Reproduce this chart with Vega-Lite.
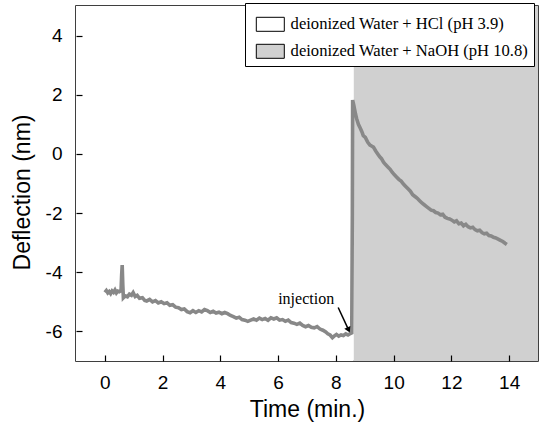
{
  "$schema": "https://vega.github.io/schema/vega-lite/v6.json",
  "width": 462,
  "height": 355,
  "autosize": {"type": "none"},
  "padding": {"left": 76, "top": 6, "right": 3, "bottom": 63},
  "background": "white",
  "config": {
    "view": {"stroke": "black", "strokeWidth": 1.5},
    "axis": {
      "grid": false,
      "domain": false,
      "offset": -6,
      "tickColor": "black",
      "tickWidth": 1.2,
      "tickSize": 6,
      "labelFont": "Liberation Sans",
      "labelFontSize": 19,
      "labelColor": "black",
      "labelExpr": "datum.value + ''",
      "titleFont": "Liberation Sans",
      "titleFontSize": 23,
      "titleFontWeight": "normal",
      "titleColor": "black"
    }
  },
  "datasets": {
    "trace": [
      {"t": 0.00, "d": -4.68}, {"t": 0.05, "d": -4.62}, {"t": 0.10, "d": -4.70}, {"t": 0.15, "d": -4.65},
      {"t": 0.20, "d": -4.72}, {"t": 0.25, "d": -4.63}, {"t": 0.30, "d": -4.68}, {"t": 0.35, "d": -4.60},
      {"t": 0.40, "d": -4.70}, {"t": 0.45, "d": -4.64}, {"t": 0.50, "d": -4.66}, {"t": 0.56, "d": -4.62},
      {"t": 0.58, "d": -4.10}, {"t": 0.60, "d": -3.76}, {"t": 0.62, "d": -4.40}, {"t": 0.64, "d": -4.86},
      {"t": 0.70, "d": -4.80}, {"t": 0.78, "d": -4.83}, {"t": 0.85, "d": -4.74}, {"t": 0.92, "d": -4.78},
      {"t": 0.98, "d": -4.69}, {"t": 1.05, "d": -4.82}, {"t": 1.12, "d": -4.78}, {"t": 1.20, "d": -4.88},
      {"t": 1.30, "d": -4.86}, {"t": 1.38, "d": -4.95}, {"t": 1.45, "d": -4.97}, {"t": 1.55, "d": -4.92},
      {"t": 1.65, "d": -5.00}, {"t": 1.75, "d": -4.96}, {"t": 1.85, "d": -5.04}, {"t": 1.95, "d": -5.00},
      {"t": 2.05, "d": -5.06}, {"t": 2.15, "d": -5.03}, {"t": 2.25, "d": -5.12}, {"t": 2.35, "d": -5.10},
      {"t": 2.45, "d": -5.18}, {"t": 2.55, "d": -5.20}, {"t": 2.65, "d": -5.26}, {"t": 2.75, "d": -5.24},
      {"t": 2.85, "d": -5.33}, {"t": 2.95, "d": -5.37}, {"t": 3.05, "d": -5.30}, {"t": 3.15, "d": -5.36},
      {"t": 3.25, "d": -5.30}, {"t": 3.35, "d": -5.34}, {"t": 3.45, "d": -5.26}, {"t": 3.55, "d": -5.30},
      {"t": 3.65, "d": -5.36}, {"t": 3.75, "d": -5.32}, {"t": 3.85, "d": -5.38}, {"t": 3.95, "d": -5.35},
      {"t": 4.05, "d": -5.40}, {"t": 4.15, "d": -5.36}, {"t": 4.25, "d": -5.40}, {"t": 4.35, "d": -5.46},
      {"t": 4.45, "d": -5.50}, {"t": 4.55, "d": -5.55}, {"t": 4.65, "d": -5.52}, {"t": 4.75, "d": -5.60},
      {"t": 4.85, "d": -5.62}, {"t": 4.95, "d": -5.66}, {"t": 5.05, "d": -5.62}, {"t": 5.15, "d": -5.58},
      {"t": 5.25, "d": -5.62}, {"t": 5.35, "d": -5.55}, {"t": 5.45, "d": -5.60}, {"t": 5.55, "d": -5.56},
      {"t": 5.65, "d": -5.62}, {"t": 5.75, "d": -5.54}, {"t": 5.85, "d": -5.58}, {"t": 5.95, "d": -5.54},
      {"t": 6.05, "d": -5.62}, {"t": 6.15, "d": -5.60}, {"t": 6.25, "d": -5.66}, {"t": 6.35, "d": -5.62},
      {"t": 6.45, "d": -5.70}, {"t": 6.55, "d": -5.72}, {"t": 6.65, "d": -5.76}, {"t": 6.75, "d": -5.72},
      {"t": 6.85, "d": -5.80}, {"t": 6.95, "d": -5.84}, {"t": 7.05, "d": -5.80}, {"t": 7.15, "d": -5.86},
      {"t": 7.25, "d": -5.88}, {"t": 7.35, "d": -5.84}, {"t": 7.45, "d": -5.92}, {"t": 7.55, "d": -5.96},
      {"t": 7.65, "d": -6.02}, {"t": 7.72, "d": -6.08}, {"t": 7.80, "d": -6.12}, {"t": 7.88, "d": -6.21},
      {"t": 7.95, "d": -6.15}, {"t": 8.02, "d": -6.10}, {"t": 8.10, "d": -6.16}, {"t": 8.18, "d": -6.12},
      {"t": 8.26, "d": -6.14}, {"t": 8.34, "d": -6.08}, {"t": 8.42, "d": -6.12}, {"t": 8.50, "d": -6.07},
      {"t": 8.55, "d": -6.05}, {"t": 8.57, "d": -2.0}, {"t": 8.58, "d": 1.82}, {"t": 8.62, "d": 1.65},
      {"t": 8.68, "d": 1.35}, {"t": 8.72, "d": 1.19}, {"t": 8.78, "d": 1.00}, {"t": 8.85, "d": 0.86},
      {"t": 8.90, "d": 0.75}, {"t": 8.95, "d": 0.62}, {"t": 9.02, "d": 0.56}, {"t": 9.10, "d": 0.40},
      {"t": 9.18, "d": 0.30}, {"t": 9.25, "d": 0.26}, {"t": 9.30, "d": 0.23}, {"t": 9.38, "d": 0.10},
      {"t": 9.45, "d": 0.00}, {"t": 9.52, "d": -0.10}, {"t": 9.58, "d": -0.16}, {"t": 9.65, "d": -0.28},
      {"t": 9.72, "d": -0.36}, {"t": 9.80, "d": -0.44}, {"t": 9.88, "d": -0.52}, {"t": 9.95, "d": -0.62},
      {"t": 10.02, "d": -0.70}, {"t": 10.10, "d": -0.78}, {"t": 10.18, "d": -0.86}, {"t": 10.26, "d": -0.92},
      {"t": 10.34, "d": -1.02}, {"t": 10.42, "d": -1.10}, {"t": 10.50, "d": -1.18}, {"t": 10.58, "d": -1.26},
      {"t": 10.66, "d": -1.38}, {"t": 10.74, "d": -1.44}, {"t": 10.82, "d": -1.50}, {"t": 10.90, "d": -1.58},
      {"t": 10.98, "d": -1.66}, {"t": 11.06, "d": -1.72}, {"t": 11.14, "d": -1.78}, {"t": 11.22, "d": -1.84},
      {"t": 11.30, "d": -1.90}, {"t": 11.38, "d": -1.92}, {"t": 11.46, "d": -1.98}, {"t": 11.54, "d": -2.00},
      {"t": 11.62, "d": -2.06}, {"t": 11.70, "d": -2.04}, {"t": 11.78, "d": -2.14}, {"t": 11.86, "d": -2.18},
      {"t": 11.94, "d": -2.20}, {"t": 12.02, "d": -2.24}, {"t": 12.10, "d": -2.30}, {"t": 12.18, "d": -2.26},
      {"t": 12.26, "d": -2.36}, {"t": 12.34, "d": -2.34}, {"t": 12.42, "d": -2.43}, {"t": 12.50, "d": -2.38},
      {"t": 12.58, "d": -2.46}, {"t": 12.66, "d": -2.50}, {"t": 12.74, "d": -2.48}, {"t": 12.82, "d": -2.56},
      {"t": 12.90, "d": -2.60}, {"t": 12.98, "d": -2.58}, {"t": 13.06, "d": -2.66}, {"t": 13.14, "d": -2.70},
      {"t": 13.22, "d": -2.68}, {"t": 13.30, "d": -2.76}, {"t": 13.38, "d": -2.77}, {"t": 13.46, "d": -2.82},
      {"t": 13.54, "d": -2.84}, {"t": 13.62, "d": -2.88}, {"t": 13.70, "d": -2.92}, {"t": 13.78, "d": -2.96},
      {"t": 13.86, "d": -3.02}, {"t": 13.92, "d": -3.06}
    ],
    "regions": [
      {"start": -1, "end": 8.62, "cond": "deionized Water + HCl (pH 3.9)"},
      {"start": 8.62, "end": 15, "cond": "deionized Water + NaOH (pH 10.8)"}
    ],
    "arrow": [
      {"ax": 8.08, "ay": -5.19, "bx": 8.44, "by": -5.95}
    ],
    "label": [
      {"lx": 6.97, "ly": -4.92, "txt": "injection"}
    ]
  },
  "layer": [
    {
      "data": {"name": "regions"},
      "mark": {"type": "rect"},
      "encoding": {
        "x": {
          "field": "start", "type": "quantitative",
          "scale": {"domain": [-1, 15], "nice": false, "zero": false},
          "axis": {"values": [0, 2, 4, 6, 8, 10, 12, 14], "title": "Time (min.)", "labelPadding": 12, "titlePadding": 6, "zindex": 2}
        },
        "x2": {"field": "end"},
        "color": {
          "field": "cond", "type": "nominal",
          "scale": {"domain": ["deionized Water + HCl (pH 3.9)", "deionized Water + NaOH (pH 10.8)"], "range": ["white", "#d0d0d0"]},
          "legend": {
            "title": " ",
            "titleFontSize": 1,
            "titlePadding": 7,
            "orient": "none",
            "legendX": 169,
            "legendY": -3,
            "direction": "vertical",
            "fillColor": "white",
            "strokeColor": "black",
            "padding": 5,
            "symbolType": "M-2,-1H2V1H-2Z",
            "symbolSize": 196,
            "symbolOffset": 12,
            "symbolStrokeColor": "black",
            "symbolStrokeWidth": 1,
            "labelFont": "Liberation Serif",
            "labelFontSize": 16.6,
            "labelColor": "black",
            "labelOffset": 12,
            "labelLimit": 400,
            "rowPadding": 8,
            "zindex": 3
          }
        }
      }
    },
    {
      "data": {"name": "trace"},
      "mark": {"type": "line", "color": "#888888", "strokeWidth": 3.6},
      "encoding": {
        "x": {"field": "t", "type": "quantitative"},
        "y": {
          "field": "d", "type": "quantitative",
          "scale": {"domain": [-7, 5], "nice": false, "zero": false},
          "axis": {"values": [-6, -4, -2, 0, 2, 4], "title": "Deflection (nm)", "labelPadding": 14, "titleX": -48, "titleY": 186, "zindex": 2}
        }
      }
    },
    {
      "data": {"name": "arrow"},
      "mark": {"type": "rule", "color": "black", "strokeWidth": 1.5},
      "encoding": {
        "x": {"field": "ax", "type": "quantitative"},
        "y": {"field": "ay", "type": "quantitative"},
        "x2": {"field": "bx"},
        "y2": {"field": "by"}
      }
    },
    {
      "data": {"name": "arrow"},
      "mark": {"type": "point", "shape": "triangle-up", "filled": true, "color": "black", "size": 45, "angle": 155, "opacity": 1},
      "encoding": {
        "x": {"field": "bx", "type": "quantitative"},
        "y": {"field": "by", "type": "quantitative"}
      }
    },
    {
      "data": {"name": "label"},
      "mark": {"type": "text", "font": "Liberation Serif", "fontSize": 16, "color": "black", "align": "center", "baseline": "middle"},
      "encoding": {
        "x": {"field": "lx", "type": "quantitative"},
        "y": {"field": "ly", "type": "quantitative"},
        "text": {"field": "txt"}
      }
    }
  ]
}
